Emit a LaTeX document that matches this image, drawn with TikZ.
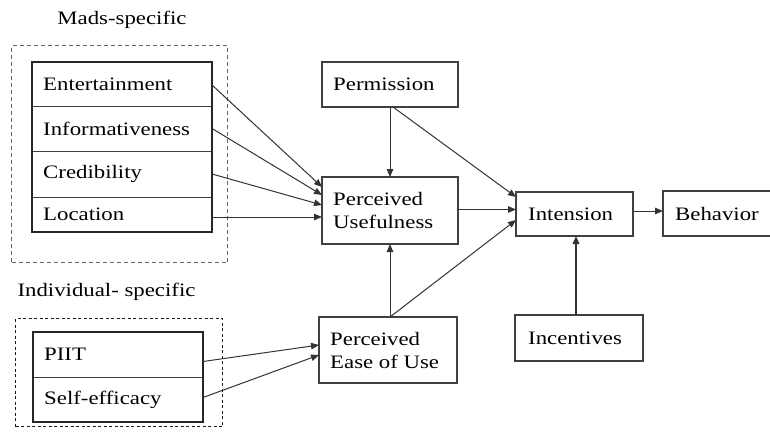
\documentclass[tikz,border=0pt]{standalone}
\usepackage{fontspec}
\setmainfont{Liberation Serif}[FakeStretch=1.2]
\usetikzlibrary{arrows.meta,calc}
\begin{document}
\begin{tikzpicture}[x=1pt,y=-1pt,
  font=\fontsize{19}{23}\selectfont,
  box/.style={draw=black!75, line width=1.3pt, rectangle, anchor=north west,
              inner sep=0pt, outer sep=0pt},
  sz/.style 2 args={minimum width=#1, minimum height=#2},
  lbl/.style={anchor=west, xshift=#1, align=left, inner sep=0pt},
  lbl/.default=11pt,
  cell/.style={draw=black!75, line width=0.9pt, rectangle, anchor=north west,
              inner sep=0pt, outer sep=0pt},
  conn/.style={draw=black!80, line width=1pt, -{Triangle[length=8pt,width=6.5pt]}},
  grp/.style={draw=black!60, line width=1pt, dash pattern=on 4pt off 3pt},
  grp2/.style={draw=black!90, line width=1.2pt, dash pattern=on 3pt off 2.5pt},
]
\useasboundingbox (0,0) rectangle (770,431);

% group labels
\node (madslbl) at (122,20) {Mads-specific};
\node (indlbl) [anchor=west] at (14,292) {Individual- specific};

% dashed group frames
\node (g1) [grp, rectangle, anchor=north west, inner sep=0pt, sz={216}{217}] at (11,45) {};
\node (g2) [grp2, rectangle, anchor=north west, inner sep=0pt, sz={207}{108}] at (15,318) {};

% Mads-specific cells
\node (ent) [cell, sz={180}{44}, label={[lbl]west:Entertainment}] at (32,62) {};
\node (inf) [cell, sz={180}{45}, label={[lbl]west:Informativeness}] at (32,106) {};
\node (cred) [cell, sz={180}{46}, label={[lbl]west:Credibility}] at (32,151) {};
\node (loc) [cell, sz={180}{35}, label={[lbl]west:Location}] at (32,197) {};
\draw[black!85, line width=1.8pt] (ent.north west) rectangle (loc.south east);

% Individual-specific cells
\node (piit) [cell, sz={170}{45}, label={[lbl]west:PIIT}] at (33,332) {};
\node (self) [cell, sz={170}{45}, label={[lbl]west:Self-efficacy}] at (33,377) {};
\draw[black!85, line width=1.4pt] (piit.north west) rectangle (self.south east);

% main boxes
\node (perm) [box, sz={136}{45}, label={[lbl]west:Permission}] at (322,62) {};
\node (pu) [box, sz={136}{67}, label={[lbl]west:Perceived\\Usefulness}] at (322,177) {};
\node (peu) [box, sz={138}{66}, label={[lbl]west:Perceived\\Ease of Use}] at (319,317) {};
\node (int) [box, sz={117}{44}, label={[lbl=12pt]west:Intension}] at (516,192) {};
\node (beh) [box, sz={120}{45}, label={[lbl=12pt]west:Behavior}] at (663,191) {};
\node (inc) [box, sz={128}{46}, label={[lbl=13pt]west:Incentives}] at (515,315) {};

% arrow end points
\coordinate (pu1) at ($(pu.north west)+(0,10)$);
\coordinate (pu2) at ($(pu.north west)+(0,18)$);
\coordinate (pu3) at ($(pu.north west)+(0,28)$);
\coordinate (pu4) at ($(pu.north west)+(0,40)$);
\coordinate (int1) at ($(int.north west)+(0,5)$);
\coordinate (int2) at ($(int.north west)+(0,28)$);
\coordinate (peu1) at ($(peu.north west)+(0,28)$);
\coordinate (peu2) at ($(peu.north west)+(0,38)$);

% connectors
\draw[conn] ($(ent.east)+(0,1)$) -- (pu1);
\draw[conn] (inf.east) -- (pu2);
\draw[conn] (cred.east) -- (pu3);
\draw[conn] ($(loc.east)+(0,3)$) -- (loc.east |- pu4) -- (pu4);
\draw[conn] (perm.south) -- (perm.south |- pu.north);
\draw[conn] ($(perm.south)+(3,0)$) -- (int1);
\draw[conn] ($(pu.east)+(0,-1)$) -- ($(int.west |- pu.east)+(0,-1)$);
\draw[conn] ($(peu.north)+(2,0)$) -- ($(peu.north |- pu.south)+(2,0)$);
\draw[conn] ($(peu.north)+(2,0)$) -- (int2);
\draw[conn] ($(int.east)+(0,-3)$) -- ($(beh.west)+(0,-2.5)$);
\draw[conn, line width=2pt] ($(inc.north)+(-3,0)$) -- ($(int.south)+(1.5,0)$);
\draw[conn] ($(piit.east)+(0,7)$) -- (peu1);
\draw[conn] ($(self.east)+(0,-2)$) -- (peu2);
\end{tikzpicture}
\end{document}
